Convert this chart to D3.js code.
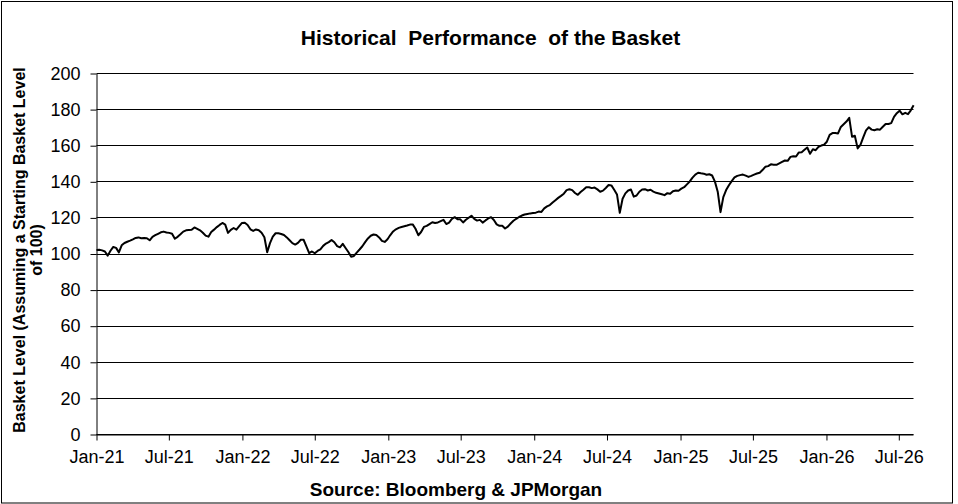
<!DOCTYPE html>
<html><head><meta charset="utf-8">
<script src="https://cdn.jsdelivr.net/npm/d3@7"></script>
<style>body{margin:0;background:#fff} svg{display:block}</style>
</head><body><svg id="c" width="958" height="504"></svg>
<script>
const titleText = "Historical  Performance  of the Basket";
const yLabelLines = ["Basket Level (Assuming a Starting Basket Level", "of 100)"];
const sourceText = "Source: Bloomberg & JPMorgan";
const startDate = "2021-01-01";   // first weekly observation
const endDate = "2026-08-07";     // last weekly observation
const yTicks = [0, 20, 40, 60, 80, 100, 120, 140, 160, 180, 200];
// weekly basket level readings
const basketLevel = [
102.2,102.3,102.0,101.4,99.1,101.8,103.9,103.4,100.9,104.8,
106.1,106.8,107.4,108.1,108.9,109.2,108.7,108.8,108.7,107.6,
109.5,110.4,111.2,112.0,112.4,111.9,111.7,111.2,108.5,109.5,
110.9,112.4,113.1,113.3,113.4,114.7,113.9,113.1,111.8,110.2,
109.6,112.2,113.5,114.9,116.1,117.2,116.3,111.7,113.4,114.4,
113.5,115.4,117.2,117.3,116.1,113.7,112.8,113.6,113.2,111.8,
109.3,101.0,106.0,109.6,111.5,111.5,111.1,110.5,109.2,107.6,
106.0,105.2,106.2,107.9,107.9,104.2,100.5,101.4,100.4,101.7,
102.6,104.5,105.8,106.6,107.8,106.5,104.4,103.7,105.6,103.3,
101.1,98.5,98.9,100.8,102.5,104.3,106.6,108.6,110.1,110.8,
110.5,109.2,107.3,106.7,108.2,110.5,112.5,113.7,114.5,115.0,
115.4,115.8,116.3,116.4,114.0,110.4,112.2,115.0,115.6,116.6,
117.6,117.2,117.5,118.2,118.9,116.6,117.4,119.4,120.4,119.3,
119.2,117.5,119.0,120.1,121.2,119.5,118.5,118.9,117.4,118.6,
119.7,120.4,118.8,116.4,115.6,115.6,114.1,115.2,116.9,118.4,
119.5,120.5,121.3,121.9,122.2,122.5,122.7,122.9,123.5,123.3,
125.3,126.4,127.1,128.5,129.8,131.1,132.2,133.4,135.4,135.9,
135.4,133.8,132.8,134.3,135.6,137.0,137.0,136.5,136.8,135.8,
134.5,135.1,136.6,138.2,138.0,135.6,133.0,122.8,130.6,133.6,
135.2,135.7,131.8,132.4,134.5,135.7,135.9,135.2,135.6,134.6,
133.9,133.5,133.1,132.6,133.7,133.4,134.8,135.2,135.0,136.2,
137.0,138.6,140.2,142.3,144.0,145.0,144.7,144.5,143.9,144.2,
143.5,140.1,134.5,123.2,131.5,135.4,138.1,140.4,142.4,143.3,
143.7,144.0,143.4,142.7,143.3,144.0,144.6,145.0,146.5,148.3,
148.7,149.7,149.5,149.4,150.2,151.0,151.8,151.6,153.8,154.2,
154.0,156.3,156.4,157.7,159.0,155.5,158.0,157.5,159.3,160.1,
160.5,162.2,166.0,167.0,167.0,166.8,170.4,171.9,173.4,175.4,
165.0,165.5,158.5,160.5,164.6,168.5,170.2,168.9,168.6,169.1,
168.9,170.5,172.0,172.0,172.5,176.0,178.0,179.4,177.4,178.2,
177.5,179.6,182.4
];

const FONT = "'Liberation Sans', Arial, Helvetica, sans-serif";
const parse = d3.timeParse("%Y-%m-%d");
const t0 = parse(startDate), t1 = parse(endDate);
const data = basketLevel.map((v, i) => ({date: d3.timeDay.offset(t0, 7 * i), value: v}));

const svg = d3.select("#c");
svg.append("rect").attr("width", 958).attr("height", 504).attr("fill", "#fff");
svg.append("rect").attr("x", 1.5).attr("y", 1.5).attr("width", 951).attr("height", 501.5)
  .attr("fill", "none").attr("stroke", "#000").attr("stroke-width", 1);

const x = d3.scaleTime().domain([t0, t1]).range([96.5, 913.6]);
const y = d3.scaleLinear().domain([0, 200]).range([434.5, 73.5]);

// gridlines
svg.append("g").selectAll("line").data(yTicks).join("line")
  .attr("x1", 96.5).attr("x2", 913.5)
  .attr("y1", d => Math.round(y(d) - 0.5) + 0.5).attr("y2", d => Math.round(y(d) - 0.5) + 0.5)
  .attr("stroke", "#000").attr("stroke-width", 1);

// y axis
const yAxis = svg.append("g").attr("transform", "translate(96.5,0)")
  .call(d3.axisLeft(y).tickValues(yTicks).tickSize(6).tickSizeOuter(0).tickPadding(10));
// x axis
const xTickVals = d3.timeMonth.every(6).range(t0, d3.timeDay.offset(t1, 1));
const xAxis = svg.append("g").attr("transform", "translate(0,434.5)")
  .call(d3.axisBottom(x).tickValues(xTickVals).tickFormat(d3.timeFormat("%b-%y"))
    .tickSize(6).tickSizeOuter(0).tickPadding(10));
xAxis.select(".domain").attr("d", "M96.5,0.5H913.5");
[yAxis, xAxis].forEach(g => {
  g.selectAll("text").attr("font-family", FONT).attr("font-size", 18).attr("fill", "#000");
  g.selectAll("line,path").attr("stroke", "#000");
});

// series line
svg.append("path").datum(data)
  .attr("fill", "none").attr("stroke", "#000").attr("stroke-width", 2).attr("stroke-linejoin", "round")
  .attr("d", d3.line().x(d => x(d.date)).y(d => y(d.value)));

// title
svg.append("text").attr("x", 490.5).attr("y", 44.5).attr("text-anchor", "middle")
  .attr("font-family", FONT).attr("font-weight", "bold").attr("font-size", 21)
  .style("white-space", "pre").text(titleText);

// y label
const yl = svg.append("g").attr("transform", "translate(0,250) rotate(-90)");
yLabelLines.forEach((t, i) => {
  yl.append("text").attr("x", 0).attr("y", 25 + i * 17).attr("text-anchor", "middle")
    .attr("font-family", FONT).attr("font-weight", "bold").attr("font-size", 16).text(t);
});

// source
svg.append("text").attr("x", 456).attr("y", 496).attr("text-anchor", "middle")
  .attr("font-family", FONT).attr("font-weight", "bold").attr("font-size", 19).text(sourceText);
</script></body></html>
